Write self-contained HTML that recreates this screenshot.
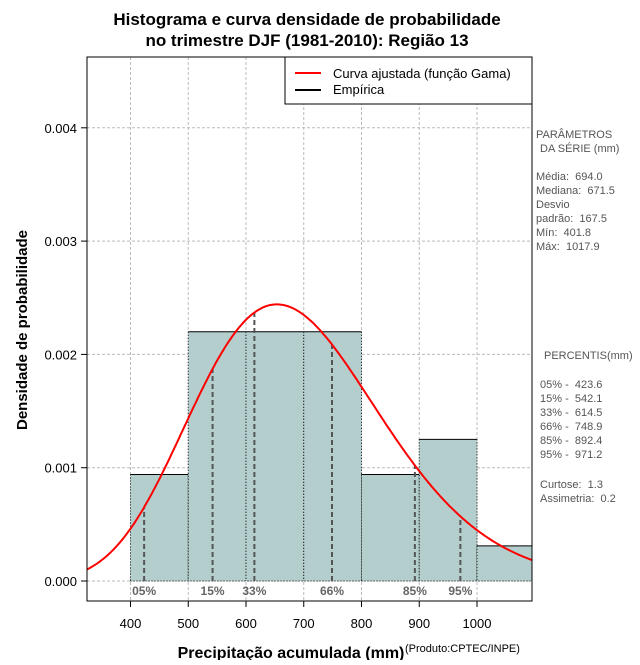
<!DOCTYPE html>
<html><head><meta charset="utf-8"><style>
body{margin:0;background:#fff;}
svg{font-family:"Liberation Sans",sans-serif;}
text{white-space:pre;}
</style></head><body>
<svg id="c" width="640" height="660" xmlns="http://www.w3.org/2000/svg"></svg>
<script>
const binStarts=[400,500,600,700,800,900,1000];
const binWidth=100;
const densities=[0.00094,0.0022,0.0022,0.0022,0.00094,0.00125,0.00031];
const gammaMean=[694.0];
const gammaSd=[167.5];
const pctLabels=["05%","15%","33%","66%","85%","95%"];
const pctValues=[423.6,542.1,614.5,748.9,892.4,971.2];
const xTicks=[400,500,600,700,800,900,1000];
const yTicks=[0,0.001,0.002,0.003,0.004];
const yTickLabels=["0.000","0.001","0.002","0.003","0.004"];

const L=87,R=532,T=57,B=601;
const x0=400,px0=130.5,kx=0.5775;
const X=v=>px0+(v-x0)*kx;
const Y=v=>581-v*113300;
const xmin=x0-(px0-L)/kx, xmax=x0+(R-px0)/kx;
const NS="http://www.w3.org/2000/svg";
const svg=document.getElementById('c');
function mk(tag,attrs,parent){const e=document.createElementNS(NS,tag);for(const k in attrs)e.setAttribute(k,attrs[k]);(parent||svg).appendChild(e);return e;}
function lgamma(z){const g=7,c=[0.99999999999980993,676.5203681218851,-1259.1392167224028,771.32342877765313,-176.61502916214059,12.507343278686905,-0.13857109526572012,9.9843695780195716e-6,1.5056327351493116e-7];z-=1;let a=c[0];const t=z+g+0.5;for(let i=1;i<9;i++)a+=c[i]/(z+i);return 0.5*Math.log(2*Math.PI)+(z+0.5)*Math.log(t)-t+Math.log(a);}
const kS=Math.pow(gammaMean[0]/gammaSd[0],2), th=gammaSd[0]*gammaSd[0]/gammaMean[0];
const pdf=v=>Math.exp((kS-1)*Math.log(v)-v/th-lgamma(kS)-kS*Math.log(th));

const defs=mk('defs',{});const cp=mk('clipPath',{id:'pc'},defs);mk('rect',{x:L,y:T,width:R-L,height:B-T},cp);
const grid=mk('g',{stroke:'#bbb','stroke-dasharray':'3,2','stroke-width':1});

xTicks.forEach(v=>mk('line',{x1:X(v),x2:X(v),y1:T,y2:B},grid));
yTicks.forEach(v=>mk('line',{x1:L,x2:R,y1:Y(v),y2:Y(v)},grid));
const bars=mk('g',{'clip-path':'url(#pc)'});

binStarts.forEach((s,i)=>{
 const r=mk('rect',{x:X(s),y:Y(densities[i]),width:X(s+binWidth)-X(s),height:Y(0)-Y(densities[i]),fill:'#b4cece'},bars);
 
 mk('line',{x1:X(s),x2:X(s+binWidth),y1:Y(densities[i]),y2:Y(densities[i]),stroke:'#000'},bars);
 mk('line',{x1:X(s),x2:X(s),y1:Y(densities[i]),y2:Y(0),stroke:'#000','stroke-dasharray':'1,2'},bars);
 mk('line',{x1:X(s+binWidth),x2:X(s+binWidth),y1:Y(densities[i]),y2:Y(0),stroke:'#000','stroke-dasharray':'1,2'},bars);
});
mk('line',{x1:X(binStarts[0]),x2:R,y1:Y(0),y2:Y(0),stroke:'#000','stroke-dasharray':'1,2'},bars);
const pg=mk('g',{});
pctValues.forEach((v,i)=>{
 mk('line',{x1:X(v),x2:X(v),y1:Y(0),y2:Y(pdf(v)),stroke:'#555','stroke-width':2,'stroke-dasharray':'5,3'},pg);
 const t=mk('text',{x:X(v),y:595,'text-anchor':'middle','font-size':12,'font-weight':'bold',fill:'#666'},pg);t.textContent=pctLabels[i];
 
});
let d='';for(let i=0;i<=300;i++){const v=xmin+(xmax-xmin)*i/300;d+=(i?'L':'M')+X(v).toFixed(1)+','+Y(pdf(v)).toFixed(1);}
const cv=mk('path',{d:d,fill:'none',stroke:'#f00','stroke-width':2,'clip-path':'url(#pc)'});

mk('rect',{x:L,y:T,width:R-L,height:B-T,fill:'none',stroke:'#000'});
const ax=mk('g',{'font-size':13});
xTicks.forEach(v=>{mk('line',{x1:X(v),x2:X(v),y1:B,y2:B+6,stroke:'#000'},ax);const t=mk('text',{x:X(v),y:628,'text-anchor':'middle'},ax);t.textContent=v;});
const ay=mk('g',{'font-size':13});
yTicks.forEach((v,i)=>{mk('line',{x1:L-6,x2:L,y1:Y(v),y2:Y(v),stroke:'#000'},ay);const t=mk('text',{x:L-10,y:Y(v)+5,'text-anchor':'end'},ay);t.textContent=yTickLabels[i];});
</script>
<svg width="640" height="660" style="position:absolute;left:0;top:0" xmlns="http://www.w3.org/2000/svg" font-family="Liberation Sans, sans-serif">
<text x="307" y="25" text-anchor="middle" font-size="17" font-weight="bold">Histograma e curva densidade de probabilidade</text>
<text x="307" y="46" text-anchor="middle" font-size="17" font-weight="bold">no trimestre DJF (1981-2010): Região 13</text>
<text x="291" y="658" text-anchor="middle" font-size="16" font-weight="bold">Precipitação acumulada (mm)</text>
<text x="405" y="652" font-size="11">(Produto:CPTEC/INPE)</text>
<text transform="translate(27,330) rotate(-90)" text-anchor="middle" font-size="15" font-weight="bold">Densidade de probabilidade</text>
<g>
<rect x="285" y="57" width="247" height="47" fill="#fff" stroke="#000"/>
<line x1="295" x2="321" y1="73" y2="73" stroke="#f00" stroke-width="2"/>
<line x1="295" x2="321" y1="90" y2="90" stroke="#000" stroke-width="2"/>
<text x="333" y="78" font-size="13">Curva ajustada (função Gama)</text>
<text x="333" y="94" font-size="13">Empírica</text>
</g>
<g font-size="11" fill="#555">
<text x="536" y="138">PARÂMETROS</text><text x="540" y="152">DA SÉRIE (mm)</text>
<text x="536" y="180">Média:  694.0</text><text x="536" y="194">Mediana:  671.5</text>
<text x="536" y="208">Desvio</text><text x="536" y="222">padrão:  167.5</text>
<text x="536" y="236">Mín:  401.8</text><text x="536" y="250">Máx:  1017.9</text>
<text x="544" y="359">PERCENTIS(mm)</text>
<text x="540" y="388">05% -  423.6</text><text x="540" y="402">15% -  542.1</text>
<text x="540" y="416">33% -  614.5</text><text x="540" y="430">66% -  748.9</text>
<text x="540" y="444">85% -  892.4</text><text x="540" y="458">95% -  971.2</text>
<text x="540" y="488">Curtose:  1.3</text><text x="540" y="502">Assimetria:  0.2</text>
</g>
</svg>
</body></html>
